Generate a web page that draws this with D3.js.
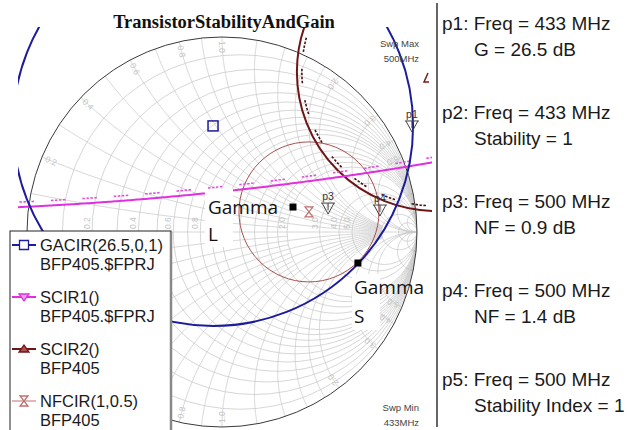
<!DOCTYPE html>
<html>
<head>
<meta charset="utf-8">
<script src="https://cdn.jsdelivr.net/npm/d3@7"></script>
<style>
  body { margin: 0; background: #fff; }
  svg { display: block; }
</style>
</head>
<body>
<div id="chart"></div>
<script>
// smith chart grid values
const resistances = [0.1, 0.2, 0.3, 0.4, 0.5, 0.6, 0.7, 0.8, 0.9, 1.0, 1.2, 1.4, 1.6, 1.8, 2.0, 3.0, 4.0, 5.0, 10, 20];
const reactances = [0.1, 0.2, 0.3, 0.4, 0.5, 0.6, 0.7, 0.8, 0.9, 1.0, 1.2, 1.4, 1.6, 1.8, 2.0, 3.0, 4.0, 5.0, 10, 20];
const rLabels = [0.2, 0.4, 0.6, 0.8, 1.0, 2.0, 3.0, 4.0, 5.0];
const xLabels = [0.2, 0.4, 0.6, 0.8, 1.0, 2.0, 3.0, 4.0, 5.0];

// circles in reflection-coefficient plane: center [re, im], radius
const gaCircle = { c: [-0.046, 0.544], r: 1.026 };
const scir1Circle = { c: [-1.843, 17.456], r: 17.347 };
const scir1Spans = [[-1.2, -0.077], [0.051, 1.2]];
const scir2Circle = { c: [1.097, 0.821], r: 0.713 };
const nfCircle = { c: [0.446, 0.103], r: 0.359 };

const gammaL = [0.364, 0.128];
const gammaS = [0.697, -0.159];
const markers = [
  { name: "p1", g: [0.974, 0.513] },
  { name: "p3", g: [0.544, 0.092] },
  { name: "p4", g: [0.810, 0.082] }
];

const legendItems = [
  { name: "GACIR(26.5,0,1)", src: "BFP405.$FPRJ", color: "#1c1c9c", sym: "square" },
  { name: "SCIR1()", src: "BFP405.$FPRJ", color: "#e02ee0", sym: "down" },
  { name: "SCIR2()", src: "BFP405", color: "#6e1616", sym: "up" },
  { name: "NFCIR(1,0.5)", src: "BFP405", color: "#c07070", sym: "hourglass" }
];

const markerNotes = [
  ["p1: Freq = 433 MHz", "G = 26.5 dB"],
  ["p2: Freq = 433 MHz", "Stability = 1"],
  ["p3: Freq = 500 MHz", "NF = 0.9 dB"],
  ["p4: Freq = 500 MHz", "NF = 1.4 dB"],
  ["p5: Freq = 500 MHz", "Stability Index = 1"]
];

const width = 632, height = 430;
const cx = 222, cy = 232, R = 195;

const svg = d3.select("#chart").append("svg")
    .attr("width", width)
    .attr("height", height);

const gx = d3.scaleLinear().domain([-1, 1]).range([cx - R, cx + R]);
const gy = d3.scaleLinear().domain([-1, 1]).range([cy + R, cy - R]);
const k = gx(1) - gx(0);   // pixels per unit of |gamma|

const line = d3.line().x(d => gx(d[0])).y(d => gy(d[1]));

function gamma(r, x) {
    const d = (r + 1) * (r + 1) + x * x;
    return [(r * r - 1 + x * x) / d, 2 * x / d];
}

svg.append("clipPath").attr("id", "unit")
    .append("circle").attr("cx", gx(0)).attr("cy", gy(0)).attr("r", k);
svg.append("clipPath").attr("id", "plot")
    .append("rect").attr("x", 18).attr("y", 27).attr("width", 414).attr("height", 403);

// grid
const grid = svg.append("g").attr("clip-path", "url(#unit)")
    .attr("fill", "none").attr("stroke", "#cbcbcb").attr("stroke-width", 0.8);

grid.selectAll(".rcirc")
    .data(resistances)
    .enter().append("circle")
    .attr("class", "rcirc")
    .attr("cx", r => gx(r / (1 + r)))
    .attr("cy", gy(0))
    .attr("r", r => k / (1 + r));

const fine = [0.1, 0.3, 0.5, 0.7, 0.9];
reactances.forEach(x => {
    const rmax = fine.includes(x) ? 2 : (x <= 2 ? 10 : Infinity);
    const smax = rmax === Infinity ? 1 : rmax / (1 + rmax);
    [x, -x].forEach(xx => {
        const pts = d3.range(0, 201).map(i => {
            const s = smax * i / 200;
            return s >= 1 ? [1, 0] : gamma(s / (1 - s), xx);
        });
        grid.append("path").attr("d", line(pts));
    });
});

grid.append("line")
    .attr("x1", gx(-1)).attr("x2", gx(1))
    .attr("y1", gy(0)).attr("y2", gy(0));

// grid labels
const labels = svg.append("g")
    .attr("font-family", "Liberation Sans, Arial, sans-serif")
    .attr("font-size", 8.5)
    .attr("fill", "#c4c4c4");

labels.selectAll(".rlab")
    .data(rLabels)
    .enter().append("text")
    .attr("transform", r => `translate(${gx((r - 1) / (r + 1)) - 2},${gy(0) - 3}) rotate(-90)`)
    .text(r => r.toFixed(1));

xLabels.forEach(x => {
    [x, -x].forEach(xx => {
        const p = gamma(0, xx);
        const ang = Math.atan2(gy(p[1]) - gy(0), gx(p[0]) - gx(0)) * 180 / Math.PI;
        const px = gx(0) + (k - 4) * Math.cos(ang * Math.PI / 180);
        const py = gy(0) + (k - 4) * Math.sin(ang * Math.PI / 180);
        labels.append("text")
            .attr("transform", `translate(${px},${py}) rotate(${ang + 180})`)
            .attr("dy", "0.35em")
            .text(x.toFixed(1));
    });
});

// outer circle
svg.append("circle")
    .attr("cx", gx(0)).attr("cy", gy(0)).attr("r", k)
    .attr("fill", "none").attr("stroke", "#3a3a3a").attr("stroke-width", 1);

// curves
const curves = svg.append("g").attr("clip-path", "url(#plot)").attr("fill", "none");
const hatch = "2.5 1.5 2.5 1.5 2.5 1.5 2.5 17";

curves.append("circle")
    .attr("cx", gx(nfCircle.c[0])).attr("cy", gy(nfCircle.c[1])).attr("r", nfCircle.r * k)
    .attr("stroke", "#a85050").attr("stroke-width", 1);

curves.append("circle")
    .attr("cx", gx(scir2Circle.c[0])).attr("cy", gy(scir2Circle.c[1])).attr("r", scir2Circle.r * k)
    .attr("stroke", "#6e1616").attr("stroke-width", 2);
curves.append("circle")
    .attr("cx", gx(scir2Circle.c[0])).attr("cy", gy(scir2Circle.c[1])).attr("r", scir2Circle.r * k - 5)
    .attr("stroke", "#4a1010").attr("stroke-width", 1.6)
    .attr("stroke-dasharray", hatch);

scir1Spans.forEach(span => {
    const pts = d3.range(0, 101).map(i => {
        const x = span[0] + (span[1] - span[0]) * i / 100;
        const dx = x - scir1Circle.c[0];
        return [x, scir1Circle.c[1] - Math.sqrt(scir1Circle.r * scir1Circle.r - dx * dx)];
    });
    curves.append("path").attr("d", line(pts))
        .attr("stroke", "#e030e0").attr("stroke-width", 2);
});
const hatchPts = d3.range(0, 201).map(i => {
    const x = -1.2 + 2.4 * i / 200;
    const rr = scir1Circle.r - 5 / k;
    const dx = x - scir1Circle.c[0];
    return [x, scir1Circle.c[1] - Math.sqrt(rr * rr - dx * dx)];
});
curves.append("path").attr("d", line(hatchPts))
    .attr("stroke", "#e050e0").attr("stroke-width", 1.6)
    .attr("stroke-dasharray", hatch);

curves.append("circle")
    .attr("cx", gx(gaCircle.c[0])).attr("cy", gy(gaCircle.c[1])).attr("r", gaCircle.r * k)
    .attr("stroke", "#1c1c9c").attr("stroke-width", 2);

// GACIR center
svg.append("rect")
    .attr("x", gx(gaCircle.c[0]) - 5).attr("y", gy(gaCircle.c[1]) - 5)
    .attr("width", 10).attr("height", 10)
    .attr("fill", "none").attr("stroke", "#1c1c9c").attr("stroke-width", 1.5);

// NF circle center
svg.append("path")
    .attr("transform", `translate(${gx(nfCircle.c[0])},${gy(nfCircle.c[1])})`)
    .attr("d", "M-4,-5H4L-4,5H4Z")
    .attr("fill", "none").attr("stroke", "#c07070").attr("stroke-width", 1.2);

// markers
const mk = svg.selectAll(".marker")
    .data(markers)
    .enter().append("g")
    .attr("class", "marker")
    .attr("transform", d => `translate(${gx(d.g[0])},${gy(d.g[1])})`);
mk.append("path")
    .attr("d", "M-7,-11H7M-6,-11L0,0L6,-11M0,-11V-4")
    .attr("fill", "none").attr("stroke", "#444").attr("stroke-width", 1);
mk.append("text")
    .attr("y", -14)
    .attr("text-anchor", "middle")
    .attr("font-family", "Liberation Sans, Arial, sans-serif")
    .attr("font-size", 10.5)
    .attr("fill", "#333")
    .text(d => d.name);

// small off-screen marker tick near top right
svg.append("path")
    .attr("d", "M428,73L424,82H429")
    .attr("fill", "none").attr("stroke", "#7a1a1a").attr("stroke-width", 1.5);

// gamma annotations: narrow white text boxes plus the chosen points
function gammaNote(g, bx, by, bw, bh) {
    svg.append("rect").attr("x", bx).attr("y", by).attr("width", bw).attr("height", bh).attr("fill", "#fff");
    svg.append("rect")
        .attr("x", gx(g[0]) - 3.5).attr("y", gy(g[1]) - 3.5)
        .attr("width", 7).attr("height", 7)
        .attr("fill", "#000");
}
gammaNote(gammaL, 205, 189, 28, 58);
gammaNote(gammaS, 352, 274, 28, 56);

const note = svg.append("g")
    .attr("font-family", "Open Sans, sans-serif")
    .attr("font-size", 19)
    .attr("fill", "#111");
note.append("text").attr("x", 208).attr("y", 214).text("Gamma");
note.append("text").attr("x", 208).attr("y", 241).text("L");
note.append("text").attr("x", 354).attr("y", 294).text("Gamma");
note.append("text").attr("x", 354).attr("y", 323).text("S");

// sweep labels
const swp = svg.append("g")
    .attr("font-family", "Liberation Sans, Arial, sans-serif")
    .attr("font-size", 9.5)
    .attr("fill", "#444")
    .attr("text-anchor", "end");
swp.append("text").attr("x", 419).attr("y", 47).text("Swp Max");
swp.append("text").attr("x", 419).attr("y", 62).text("500MHz");
swp.append("text").attr("x", 419).attr("y", 411).text("Swp Min");
swp.append("text").attr("x", 419).attr("y", 426).text("433MHz");

// title
svg.append("text")
    .attr("x", 224).attr("y", 28)
    .attr("text-anchor", "middle")
    .attr("font-family", "Liberation Serif, Times New Roman, serif")
    .attr("font-weight", "bold")
    .attr("font-size", 18.5)
    .attr("fill", "#111")
    .text("TransistorStabilityAndGain");

// legend
const legend = svg.append("g");
legend.append("rect")
    .attr("x", 10).attr("y", 231).attr("width", 161).attr("height", 210)
    .attr("fill", "#fff").attr("stroke", "#222").attr("stroke-width", 1);
legend.append("line")
    .attr("x1", 171).attr("x2", 171).attr("y1", 232).attr("y2", 430)
    .attr("stroke", "#888").attr("stroke-width", 2.5);

const li = legend.selectAll(".item")
    .data(legendItems)
    .enter().append("g")
    .attr("class", "item")
    .attr("transform", (d, i) => `translate(0,${245 + i * 52})`);
li.append("line")
    .attr("x1", 12).attr("x2", 36)
    .attr("stroke", d => d.color).attr("stroke-width", d => d.sym === "hourglass" ? 1 : 2);
li.append("path")
    .attr("transform", "translate(24,0)")
    .attr("d", d => ({
        square: "M-4.5,-4.5H4.5V4.5H-4.5Z",
        down: "M-5,-3H5L0,4Z",
        up: "M-5,3H5L0,-4Z",
        hourglass: "M-4,-5H4L-4,5H4Z"
    })[d.sym])
    .attr("fill", d => d.sym === "down" ? "#f0a0f0" : (d.sym === "up" ? "#b05050" : "#fff"))
    .attr("stroke", d => d.color).attr("stroke-width", 1.3);
li.append("text")
    .attr("x", 40).attr("y", 6)
    .attr("font-family", "Liberation Sans, Arial, sans-serif")
    .attr("font-size", 16.5)
    .attr("fill", "#1a1a1a")
    .text(d => d.name);
li.append("text")
    .attr("x", 40).attr("y", 25)
    .attr("font-family", "Liberation Sans, Arial, sans-serif")
    .attr("font-size", 16.5)
    .attr("fill", "#1a1a1a")
    .text(d => d.src);

// marker readout panel
svg.append("line")
    .attr("x1", 437).attr("x2", 437).attr("y1", 3).attr("y2", 427)
    .attr("stroke", "#333").attr("stroke-width", 1.5);

const notes = svg.selectAll(".mnote")
    .data(markerNotes)
    .enter().append("g")
    .attr("class", "mnote")
    .attr("transform", (d, i) => `translate(0,${30 + i * 89})`)
    .attr("font-family", "Liberation Sans, Arial, sans-serif")
    .attr("font-size", 19)
    .attr("fill", "#1a1a1a");
notes.append("text").attr("x", 442).attr("y", 0).text(d => d[0]);
notes.append("text").attr("x", 474).attr("y", 26).text(d => d[1]);
</script>
</body>
</html>
